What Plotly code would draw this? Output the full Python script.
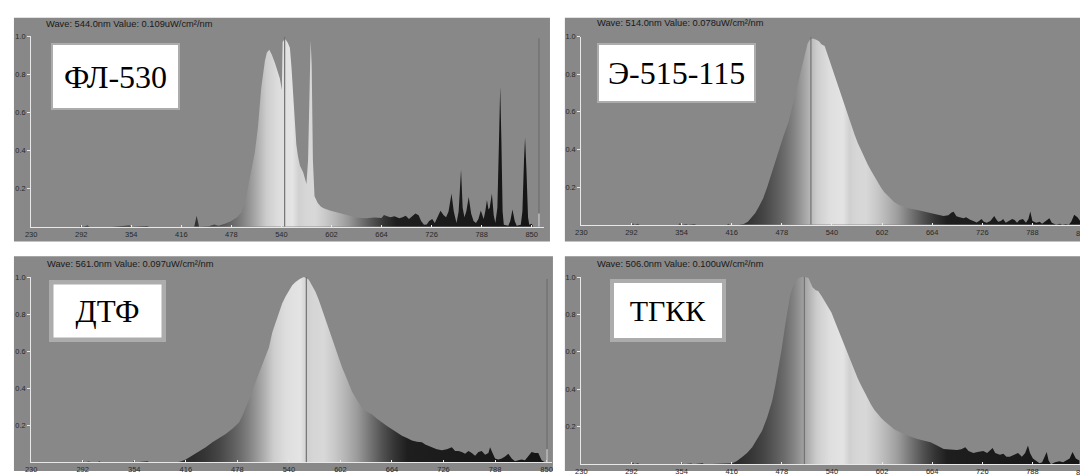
import plotly.graph_objects as go

W, H = 1080, 476

# ---- axis ticks ---------------------------------------------------------
TICK_NM = [230, 292, 354, 416, 478, 540, 602, 664, 726, 788, 850]
TICK_REL = [0.2, 0.4, 0.6, 0.8, 1.0]

# ---- sample names and cursor readouts -----------------------------------
NAMES = ["ФЛ-530", "Э-515-115", "ДТФ", "ТГКК"]
CURSOR_NM = [544.0, 514.0, 561.0, 506.0]
CURSOR_VALUE = [0.109, 0.078, 0.097, 0.100]

# ---- relative spectra (wavelength, nm / relative intensity) -------------
FL530_NM = [230, 290, 292, 294, 300, 302, 330, 352, 354, 374, 376, 420, 432, 435, 438,
            450, 457, 462, 470, 478, 485, 491, 495, 499, 503, 507, 511, 515, 519.5, 522,
            525, 528, 532, 538, 540.5, 541.5, 543, 545, 548, 550.5, 552.5, 554.5, 556.5,
            558.5, 560.5, 563, 567, 571, 573, 575, 576.2, 577.5, 579, 581, 585, 589, 593,
            600, 607, 614, 622, 634, 645, 655, 664, 667, 671, 675, 680, 686, 690, 694,
            698, 702, 706, 710, 713, 716.6, 720, 723, 726.8, 730, 733, 737, 741, 744,
            747, 750.7, 753.5, 756.9, 759.5, 762.5, 764.5, 766.7, 769, 772, 775, 778,
            781, 784, 787, 790.5, 792.5, 794.6, 796.5, 798, 800.7, 803, 805, 807.5,
            809.5, 811, 812.5, 814, 815.5, 821, 823.5, 826.2, 829, 831.5, 836.5, 838.5,
            840.5, 841.8, 843.5, 845.5, 847, 850, 852]
FL530_REL = [0, 0, 0.008, 0, 0.006, 0, 0, 0.006, 0, 0.004, 0, 0, 0, 0.057, 0,
             0.003, 0.012, 0.005, 0.015, 0.03, 0.05, 0.079, 0.13, 0.216, 0.30, 0.388, 0.526, 0.73, 0.87, 0.915,
             0.93, 0.905, 0.86, 0.78, 0.72, 0.97, 0.98, 0.985, 0.965, 0.94, 0.835, 0.70, 0.526,
             0.43, 0.37, 0.32, 0.285, 0.225, 0.35, 0.85, 0.98, 0.85, 0.35, 0.16, 0.125, 0.105, 0.096,
             0.085, 0.078, 0.07, 0.06, 0.047, 0.045, 0.048, 0.046, 0.062, 0.055, 0.05, 0.055, 0.045, 0.05, 0.057,
             0.04, 0.055, 0.07, 0.06, 0.03, 0.01, 0.012, 0.03, 0.04, 0.02, 0.045, 0.084, 0.06, 0.05,
             0.08, 0.174, 0.08, 0.02, 0.08, 0.30, 0.10, 0.05, 0.08, 0.156, 0.07, 0.03,
             0.02, 0.04, 0.085, 0.04, 0.08, 0.14, 0.09, 0.10, 0.174, 0.06, 0.02, 0.10,
             0.45, 0.737, 0.45, 0.08, 0.01, 0.005, 0.03, 0.091, 0.03, 0.005, 0.01, 0.08,
             0.35, 0.469, 0.30, 0.05, 0.01, 0.015, 0.0]

E515_NM = [230, 292, 294, 296, 300, 302, 350, 352, 354, 360, 362, 370, 372, 410, 412, 414,
           425, 431, 436, 440, 445, 449.6, 455, 460, 465, 470, 475, 480, 486.4, 492, 498.6,
           503, 506.7, 510, 513, 516, 520, 524, 527, 531, 535, 539.4, 543.5, 547.6, 551.7,
           555.8, 560, 564, 568, 572, 576, 580.2, 584.3, 588.5, 592.6, 596.7, 600.7, 604.8,
           611, 617, 623, 629.3, 637, 645.7, 654, 662, 670, 678, 684, 688, 690.5, 694, 698,
           702.8, 706, 711, 715, 719, 722, 725, 728, 731.5, 736, 740.8, 743, 745.7, 749,
           751.8, 755, 760, 763, 766, 769, 772, 776.3, 780, 783, 785.4, 788, 792.7, 797,
           800, 805, 809, 812, 817.3, 822, 825, 829.5, 833, 836, 838, 839.7, 843.7, 847]
E515_REL = [0, 0, 0.006, 0, 0.005, 0, 0, 0.007, 0, 0.004, 0, 0.004, 0, 0, 0.005, 0,
            0, 0.003, 0.015, 0.035, 0.06, 0.095, 0.14, 0.20, 0.27, 0.34, 0.41, 0.47, 0.547, 0.65, 0.756,
            0.85, 0.913, 0.965, 0.985, 0.99, 0.985, 0.975, 0.96, 0.95, 0.90, 0.843, 0.79, 0.739, 0.69,
            0.635, 0.58, 0.53, 0.48, 0.434, 0.395, 0.356, 0.32, 0.287, 0.255, 0.225, 0.198, 0.173,
            0.145, 0.121, 0.105, 0.095, 0.085, 0.078, 0.07, 0.064, 0.055, 0.046, 0.05, 0.065, 0.069, 0.045, 0.04,
            0.034, 0.04, 0.026, 0.02, 0.011, 0.02, 0.03, 0.015, 0.01, 0.02, 0.046, 0.03, 0.015, 0.02,
            0.03, 0.01, 0.02, 0.03, 0.025, 0.01, 0.025, 0.03, 0.01, 0.03, 0.07, 0.02, 0.01, 0.015,
            0.005, 0.02, 0.034, 0.01, 0.0, 0.005, 0.0, 0.003, 0.0, 0.015, 0.04, 0.052, 0.04, 0.02]

DTF_NM = [230, 290, 292, 294, 300, 302, 310, 312, 314, 352, 354, 356, 370, 372, 405, 410,
          416, 424, 432, 440, 448, 456, 464, 472, 480, 484, 488, 494, 500, 506, 512, 516,
          520, 524, 528, 532, 536, 540, 544, 548, 553, 558, 561, 564, 568, 572, 576, 580,
          584, 588, 592, 596, 600, 604, 608, 612, 616, 622, 628, 634, 640, 646, 652, 658,
          664, 670, 676, 682, 688, 694, 700, 704, 708, 712, 718, 724, 730, 736, 740, 744,
          748, 752, 756, 760, 764, 768, 772, 776, 780, 782, 785, 788, 792, 796, 800, 804,
          808, 812, 816, 820, 824, 828, 832, 836, 840, 844, 848]
DTF_REL = [0, 0, 0.006, 0, 0.004, 0, 0, 0.005, 0, 0, 0.008, 0, 0.005, 0, 0, 0.003,
           0.014, 0.035, 0.055, 0.08, 0.108, 0.13, 0.152, 0.18, 0.214, 0.25, 0.293, 0.36, 0.435, 0.505, 0.576, 0.62,
           0.70, 0.75, 0.81, 0.858, 0.895, 0.929, 0.955, 0.973, 0.99, 1.0, 0.995, 0.985, 0.955, 0.92, 0.876, 0.825,
           0.77, 0.715, 0.664, 0.61, 0.558, 0.512, 0.47, 0.425, 0.38, 0.335, 0.293, 0.272, 0.258, 0.235, 0.214, 0.195,
           0.178, 0.16, 0.143, 0.13, 0.117, 0.11, 0.108, 0.095, 0.09, 0.081, 0.07, 0.064, 0.07, 0.081, 0.06, 0.06,
           0.055, 0.045, 0.06, 0.05, 0.035, 0.055, 0.06, 0.04, 0.05, 0.08, 0.05, 0.02, 0.015, 0.02, 0.03, 0.046,
           0.02, 0.005, 0.01, 0.015, 0.01, 0.03, 0.055, 0.05, 0.05, 0.01, 0.0]

TGKK_NM = [230, 292, 294, 296, 300, 302, 352, 354, 356, 366, 368, 380, 382, 405, 410, 416.9,
           422, 429, 435, 441.4, 447, 453.6, 460, 466, 470, 474, 478, 482, 485, 488, 491, 494.5,
           498, 502.7, 507, 511, 513, 516, 520, 523, 527, 531, 535, 539.4, 543.5, 547.6, 551.7,
           555.7, 560, 564, 568, 572, 576, 580, 584, 588.5, 592.6, 596.7, 600.7, 604.8, 611, 617,
           623, 629.3, 637, 645.7, 654, 662, 670, 678.3, 686, 694.7, 700, 705, 709, 715, 720,
           727.3, 732, 738.8, 742, 747.8, 752, 756, 760, 765, 770.2, 775, 779, 782.5, 785, 788.6,
           792, 796.8, 800, 803, 805.7, 808, 811, 816, 821.3, 826, 830, 834, 837.6, 841.7, 846]
TGKK_REL = [0, 0, 0.006, 0, 0.005, 0, 0, 0.007, 0, 0.004, 0, 0.005, 0, 0, 0.004, 0.005,
            0.015, 0.038, 0.06, 0.09, 0.13, 0.178, 0.25, 0.336, 0.42, 0.51, 0.62, 0.738, 0.82, 0.895, 0.94, 0.974,
            0.993, 1.0, 1.0, 0.995, 0.975, 0.945, 0.93, 0.925, 0.90, 0.87, 0.84, 0.81, 0.765, 0.72, 0.675,
            0.63, 0.588, 0.545, 0.50, 0.458, 0.422, 0.388, 0.352, 0.317, 0.29, 0.266, 0.248, 0.23, 0.208, 0.187,
            0.173, 0.161, 0.148, 0.135, 0.126, 0.117, 0.10, 0.081, 0.078, 0.075, 0.08, 0.09, 0.07, 0.06, 0.065,
            0.07, 0.06, 0.086, 0.06, 0.05, 0.055, 0.04, 0.04, 0.05, 0.06, 0.04, 0.06, 0.10, 0.06, 0.03,
            0.02, 0.005, 0.01, 0.04, 0.065, 0.02, 0.0, 0.01, 0.015, 0.01, 0.02, 0.03, 0.065, 0.03, 0.02]

SPECTRA = [(FL530_NM, FL530_REL), (E515_NM, E515_REL), (DTF_NM, DTF_REL), (TGKK_NM, TGKK_REL)]

# grey rendering of the visible spectrum used to shade the area under each curve
GRAD_NM = [230, 405, 425, 440, 455, 470, 480, 490, 500, 510, 520, 535, 552, 560, 568, 580,
           592, 605, 620, 635, 650, 665, 680, 860]
GRAD_GRAY = [40, 40, 45, 55, 70, 92, 108, 128, 152, 178, 205, 222, 228, 208, 214, 216,
             202, 182, 155, 118, 82, 52, 30, 20]
G0, G1 = GRAD_NM[0], GRAD_NM[-1]
SPECTRUM_SCALE = [[(nm - G0) / (G1 - G0), f"rgb({g},{g},{g})"] for nm, g in zip(GRAD_NM, GRAD_GRAY)]

# ---- panel geometry (pixels) --------------------------------------------
# frame: grey card; x0: pixel of 230 nm; kx: px per nm; y0/y1: pixel rows of 0 and 1.0
PANELS = [
    dict(frame=(8, 14, 547, 242), x0=25.3, kx=0.8118, y0=227.0, y1=33.0, xmax=865,
         head=(38, 20), box=(45, 40, 129, 67), bw=2, fs=32, marker=859),
    dict(frame=(562, 14, 1080, 242), x0=578.5, kx=0.813, y0=224.9, y1=33.3, xmax=None,
         head=(592, 19), box=(594, 40, 159, 60), bw=2, fs=32, marker=None),
    dict(frame=(8, 257, 550, 476), x0=25.3, kx=0.836, y0=467.0, y1=278.3, xmax=857,
         head=(39, 265), box=(43, 281, 117, 62), bw=4.5, fs=31, marker=850.5),
    dict(frame=(562, 257, 1080, 476), x0=578.5, kx=0.813, y0=469.0, y1=278.3, xmax=None,
         head=(592, 265), box=(607, 280, 116, 63), bw=4, fs=30, marker=None),
]

BG_GRAY = "rgb(136,136,136)"
AXIS_COL = "rgb(232,232,232)"
TEXT_COL = "rgb(40,40,40)"
SANS = "Liberation Sans, Arial, sans-serif"
SERIF = "Liberation Serif, DejaVu Serif, Noto Serif, serif"

fig = go.Figure()
shapes, annotations, layout_axes = [], [], {}

for i, (p, (nm, rel)) in enumerate(zip(PANELS, SPECTRA), start=1):
    sfx = "" if i == 1 else str(i)
    xa, ya = "x" + sfx, "y" + sfx

    # axis placement from the pixel geometry
    if p["xmax"] is None:
        x_right_px = W
        xmax = 230 + (W - p["x0"]) / p["kx"]
    else:
        xmax = p["xmax"]
        x_right_px = p["x0"] + (xmax - 230) * p["kx"]
    layout_axes["xaxis" + sfx] = dict(
        domain=[p["x0"] / W, min(x_right_px / W, 1.0)], range=[230, xmax], anchor=ya,
        tickvals=TICK_NM, ticktext=[str(t) for t in TICK_NM], ticks="inside", ticklen=2,
        tickcolor=AXIS_COL, showline=True, linecolor=AXIS_COL, linewidth=1.2,
        showgrid=False, zeroline=False, fixedrange=True,
        tickfont=dict(family=SANS, size=7.5, color=TEXT_COL),
    )
    layout_axes["yaxis" + sfx] = dict(
        domain=[1 - p["y0"] / H, 1 - p["y1"] / H], range=[0, 1.0], anchor=xa,
        tickvals=TICK_REL, ticktext=[f"{t:.1f}" for t in TICK_REL], ticks="outside", ticklen=3,
        tickcolor=AXIS_COL, showline=True, linecolor=AXIS_COL, linewidth=1.2,
        showgrid=False, zeroline=False, fixedrange=True,
        tickfont=dict(family=SANS, size=7.4, color=TEXT_COL),
    )

    # grey card behind the plot
    fx0, fy0, fx1, fy1 = p["frame"]
    shapes.append(dict(type="rect", xref="paper", yref="paper", layer="below",
                       x0=fx0 / W, x1=fx1 / W, y0=1 - fy1 / H, y1=1 - fy0 / H,
                       fillcolor=BG_GRAY, line=dict(width=0)))

    fig.add_trace(go.Scatter(
        x=nm, y=rel, xaxis=xa, yaxis=ya, mode="lines", fill="tozeroy",
        line=dict(width=0, color="rgba(0,0,0,0)"),
        fillgradient=dict(type="horizontal", colorscale=SPECTRUM_SCALE, start=G0, stop=G1),
        hoverinfo="skip", showlegend=False,
    ))

    # cursor line
    c = CURSOR_NM[i - 1]
    shapes.append(dict(type="line", xref=xa, yref=ya, x0=c, x1=c, y0=0, y1=1.0,
                       line=dict(color="rgb(115,115,115)", width=1.2)))

    # scroll marker at the right edge
    if p["marker"] is not None:
        m = p["marker"]
        shapes.append(dict(type="line", xref=xa, yref=ya, x0=m, x1=m, y0=0.07, y1=0.99,
                           line=dict(color="rgb(110,110,110)", width=1.2)))
        shapes.append(dict(type="line", xref=xa, yref=ya, x0=m, x1=m, y0=0.0, y1=0.07,
                           line=dict(color="rgb(200,200,200)", width=1.2)))

    # readout header
    hx, hy = p["head"]
    annotations.append(dict(
        xref="paper", yref="paper", x=hx / W, y=1 - hy / H, xanchor="left", yanchor="middle",
        text=f"Wave: {c:.1f}nm Value: {CURSOR_VALUE[i - 1]:.3f}uW/cm²/nm", showarrow=False,
        font=dict(family=SANS, size=9.3, color="rgb(25,25,25)"),
    ))

    # sample name card
    bx, by, bwid, bhgt = p["box"]
    bw = p["bw"]
    annotations.append(dict(
        xref="paper", yref="paper", x=bx / W, y=1 - by / H, xanchor="left", yanchor="top",
        text=NAMES[i - 1], showarrow=False, align="center", valign="middle",
        width=bwid - 2 * bw, height=bhgt - 2 * bw, borderpad=0, borderwidth=bw,
        bordercolor="rgb(172,172,172)", bgcolor="white",
        font=dict(family=SERIF, size=p["fs"], color="black"),
    ))

# the 850 tick of the right-hand panels sits on the page edge
for i in (2, 4):
    p = PANELS[i - 1]
    annotations.append(dict(
        xref="paper", yref="paper", x=(p["x0"] + (850 - 230) * p["kx"]) / W,
        y=1 - (p["y0"] + 2) / H, xanchor="center", yanchor="top", text="850", showarrow=False,
        font=dict(family=SANS, size=7.5, color=TEXT_COL),
    ))

fig.update_layout(
    width=W, height=H, margin=dict(l=0, r=0, t=0, b=0),
    paper_bgcolor="white", plot_bgcolor="rgba(0,0,0,0)",
    shapes=shapes, annotations=annotations, showlegend=False, **layout_axes,
)

# the figure fills the page exactly, so drop the default body margin
fig.write_html("out.html", post_script="document.body.style.margin = '0px';")
